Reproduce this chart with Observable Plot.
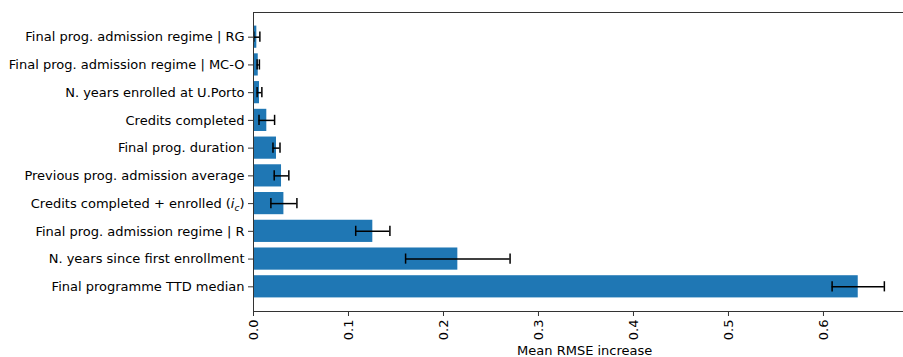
<!DOCTYPE html>
<html>
<head>
<meta charset="utf-8">
<script src="https://cdn.jsdelivr.net/npm/d3@7"></script>
<script src="https://cdn.jsdelivr.net/npm/@observablehq/plot@0.6"></script>
<style>
  html, body { margin: 0; padding: 0; background: #fff; overflow: hidden; width: 903px; height: 357px; }
  #chart { width: 903px; height: 357px; overflow: hidden; }
  #chart svg { max-width: none !important; height: 357px !important; }
</style>
</head>
<body>
<div id="chart"></div>
<script>
const features = [
  "Final prog. admission regime | RG",
  "Final prog. admission regime | MC-O",
  "N. years enrolled at U.Porto",
  "Credits completed",
  "Final prog. duration",
  "Previous prog. admission average",
  "Credits completed + enrolled (i_c)",
  "Final prog. admission regime | R",
  "N. years since first enrollment",
  "Final programme TTD median"
];
const means = [0.0035, 0.005, 0.0063, 0.014, 0.0242, 0.0295, 0.032, 0.1256, 0.2151, 0.6366];
const stds  = [0.0032, 0.0012, 0.0025, 0.0082, 0.0037, 0.0077, 0.0137, 0.018, 0.055, 0.0275];
const xTicks = [0, 0.1, 0.2, 0.3, 0.4, 0.5, 0.6];
const xLabel = "Mean RMSE increase";

const data = features.map((f, i) => ({feature: f, mean: means[i], lo: means[i] - stds[i], hi: means[i] + stds[i]}));
const xMax = d3.max(data, d => d.hi) * 1.05;

const chart = Plot.plot({
  width: 920,
  height: 357,
  marginLeft: 253,
  marginRight: 4.6,
  marginTop: 12,
  marginBottom: 46,
  style: {fontFamily: "DejaVu Sans", fontSize: "13px", color: "#000", background: "#fff"},
  x: {domain: [0, xMax], ticks: xTicks, tickFormat: d3.format(".1f")},
  y: {domain: features, paddingInner: 0.2, paddingOuter: 0.49, round: false},
  marks: [
    Plot.barX(data, {y: "feature", x: "mean", fill: "#1f77b4"}),
    Plot.ruleY(data, {y: "feature", x1: "lo", x2: "hi", stroke: "#000", strokeWidth: 1.5}),
    Plot.tickX(data, {y: "feature", x: "lo", stroke: "#000", strokeWidth: 1.5, insetTop: 6, insetBottom: 6}),
    Plot.tickX(data, {y: "feature", x: "hi", stroke: "#000", strokeWidth: 1.5, insetTop: 6, insetBottom: 6}),
    Plot.frame({stroke: "#333", strokeWidth: 1}),
    Plot.axisX({ticks: xTicks, tickFormat: d3.format(".1f"), tickRotate: -90, tickSize: 5, tickPadding: 3, label: null, stroke: "#333"}),
    Plot.axisY({tickSize: 5, tickPadding: 4, label: null, stroke: "#333"}),
    Plot.text([xLabel], {frameAnchor: "bottom", dy: 43, text: d => d, fontSize: 13, fill: "#000"})
  ]
});
document.getElementById("chart").appendChild(chart);

// Render "(i_c)" with italic i and subscript c
const NS = "http://www.w3.org/2000/svg";
chart.querySelectorAll("text").forEach(t => {
  if (t.textContent === "Credits completed + enrolled (i_c)") {
    const target = t.querySelector("tspan") || t;
    target.textContent = "Credits completed + enrolled (";
    const ti = document.createElementNS(NS, "tspan");
    ti.setAttribute("font-style", "italic");
    ti.textContent = "i";
    const tc = document.createElementNS(NS, "tspan");
    tc.setAttribute("font-style", "italic");
    tc.setAttribute("font-size", "9px");
    tc.setAttribute("dy", "3");
    tc.textContent = "c";
    const tp = document.createElementNS(NS, "tspan");
    tp.setAttribute("dy", "-3");
    tp.textContent = ")";
    target.appendChild(ti);
    target.appendChild(tc);
    target.appendChild(tp);
  }
});
</script>
</body>
</html>
